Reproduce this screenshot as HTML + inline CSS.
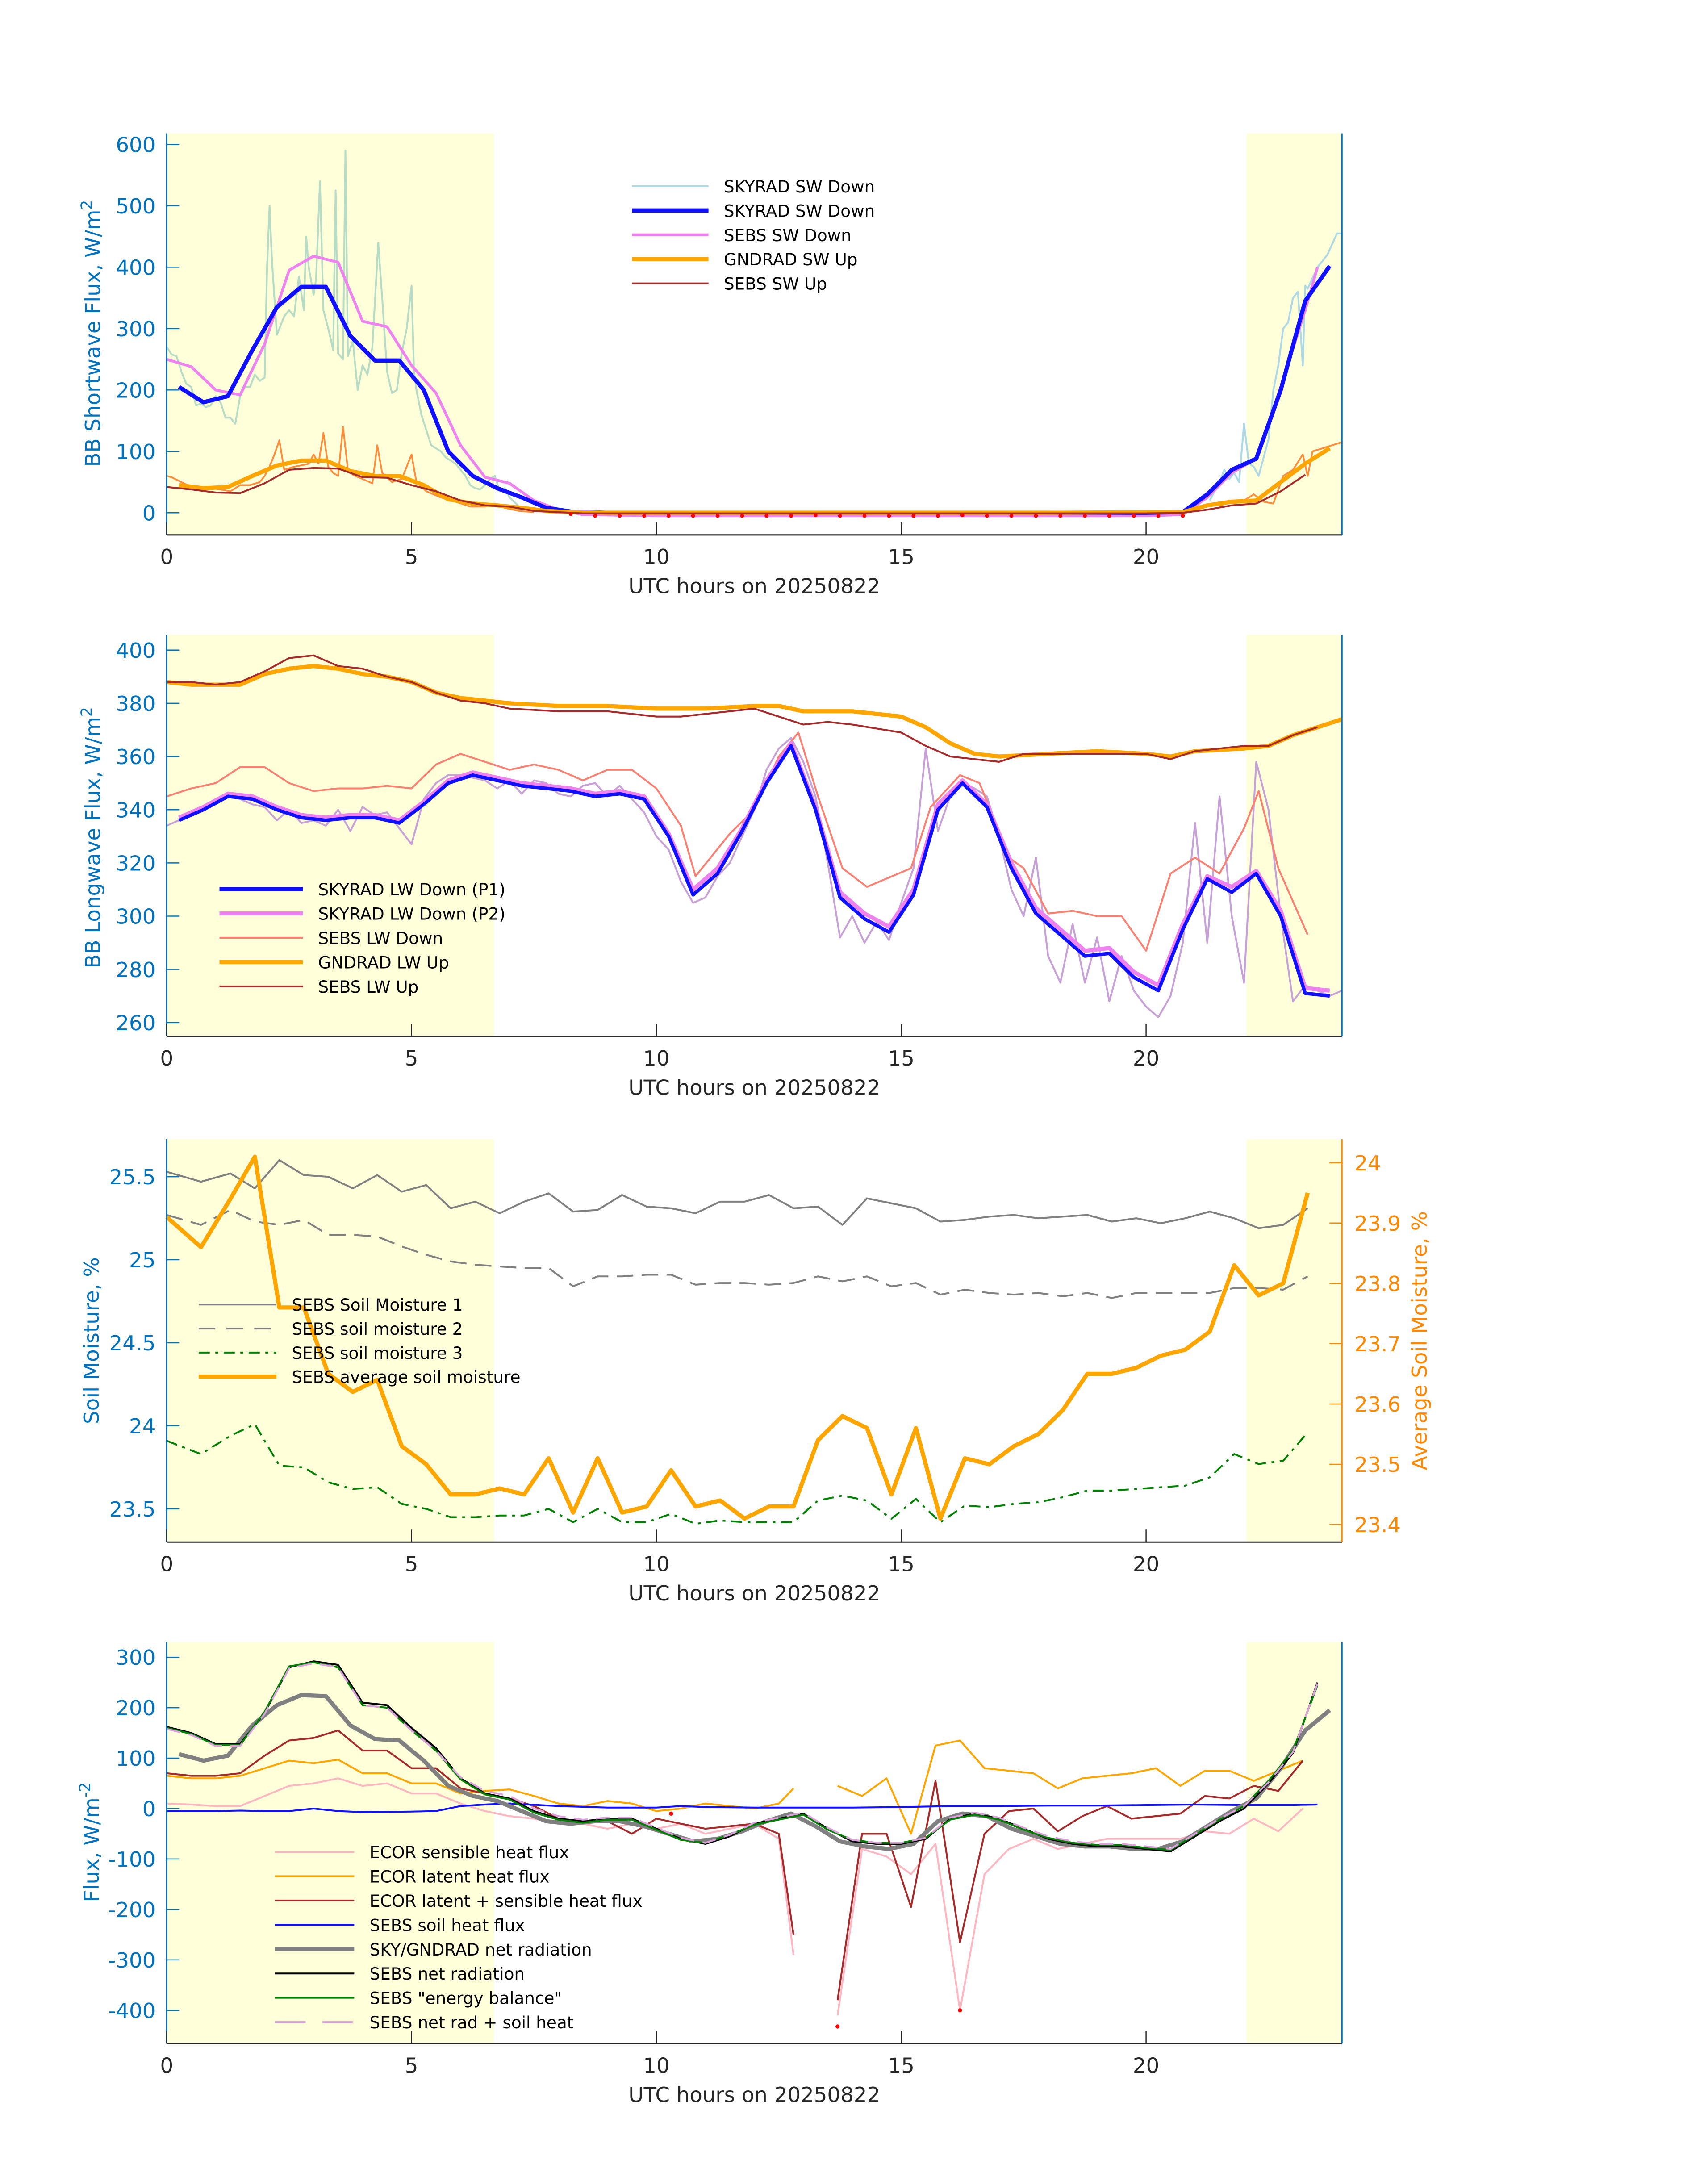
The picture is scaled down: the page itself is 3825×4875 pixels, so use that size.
<!DOCTYPE html>
<html><head><meta charset="utf-8"><style>
html,body{margin:0;padding:0;background:#fff;}
svg{display:block;font-family:"DejaVu Sans","Liberation Sans",sans-serif;}
</style></head><body>
<svg id="chart" width="3825" height="4875" viewBox="0 0 1229.5 1567" xmlns="http://www.w3.org/2000/svg">
<rect x="0" y="0" width="1229.5" height="1567" fill="#fff"/>
</svg>
<script>
// ---------- shared
const xTicks = [0,5,10,15,20];
// Panel 1 data
const p1RawSkyT = [0,0.1,0.2,0.3,0.4,0.5,0.6,0.7,0.8,0.9,1.0,1.1,1.2,1.3,1.4,1.5,1.6,1.7,1.8,1.9,2.0,2.05,2.1,2.15,2.25,2.4,2.5,2.6,2.7,2.8,2.85,2.9,3.0,3.05,3.13,3.2,3.3,3.4,3.45,3.5,3.6,3.65,3.7,3.8,3.9,4.0,4.1,4.2,4.32,4.4,4.5,4.6,4.7,4.8,4.9,5.0,5.05,5.1,5.2,5.3,5.4,5.5,5.6,5.7,5.8,5.9,6.0,6.1,6.2,6.3,6.4,6.5,6.6,6.7,6.8,6.9,7.0,7.2,7.5];
const p1RawSkyV = [270,258,255,230,210,205,175,178,172,175,190,180,155,155,145,190,205,205,225,215,220,400,500,410,290,320,330,320,385,330,450,400,355,380,540,330,300,265,525,260,250,590,255,280,200,240,225,270,440,350,230,195,200,260,300,370,230,200,160,135,110,105,100,90,85,80,70,60,45,40,38,45,55,60,35,40,25,10,3];
const p1RawSkyEveT = [21.3,21.5,21.6,21.7,21.8,21.9,22.0,22.1,22.2,22.3,22.4,22.5,22.6,22.7,22.8,22.9,23.0,23.1,23.2,23.25,23.3,23.5,23.7,23.9,24.0];
const p1RawSkyEveV = [20,50,70,55,65,50,145,80,75,60,90,120,200,240,300,310,350,360,240,370,365,400,420,455,455];
const p1RawGndT = [0,0.1,0.3,0.5,0.7,0.9,1.1,1.3,1.5,1.7,1.9,2.0,2.1,2.2,2.3,2.4,2.6,2.8,2.9,3.0,3.1,3.2,3.3,3.4,3.5,3.6,3.7,3.8,4.0,4.2,4.3,4.4,4.6,4.8,5.0,5.1,5.3,5.6,5.9,6.2,6.5,6.7,6.9,7.2,7.5];
const p1RawGndV = [60,58,50,42,42,40,38,35,45,45,50,60,75,95,118,70,75,78,80,95,80,130,75,65,60,140,70,62,55,48,110,65,50,55,95,50,35,25,18,10,10,15,8,3,1];
const p1RawGndEveT = [21.5,21.7,21.8,22.0,22.2,22.4,22.6,22.8,23.0,23.2,23.3,23.4,23.6,23.8,24.0];
const p1RawGndEveV = [10,20,15,20,30,18,15,60,70,95,60,100,105,110,115];
const p1SkyT = [0.25,0.75,1.25,1.75,2.25,2.75,3.25,3.75,4.25,4.75,5.25,5.75,6.25,6.75,7.25,7.75,8.25,9,10,11,12,13,14,15,16,17,18,19,20,20.75,21.25,21.75,22.25,22.75,23.25,23.75];
const p1SkyV = [205,180,190,265,335,368,368,288,248,248,200,100,60,40,25,8,2,0,0,0,0,0,0,0,0,0,0,0,0,1,30,70,88,200,345,402];
const p1SebsDnT = [0,0.5,1.0,1.5,2.0,2.5,3.0,3.5,4.0,4.5,5.0,5.5,6.0,6.5,7.0,7.5,8.0,8.5,10,12,14,16,18,20,20.75,21.25,21.75,22.25,22.75,23.25,23.5];
const p1SebsDnV = [250,238,200,192,275,395,418,408,312,303,240,195,110,58,48,20,5,-3,-5,-5,-5,-5,-5,-5,-3,25,65,88,205,330,400];
const p1GndT = [0.25,0.75,1.25,1.75,2.25,2.75,3.25,3.75,4.25,4.75,5.25,5.75,6.25,6.75,7.25,7.75,8.25,9,12,15,18,20.75,21.25,21.75,22.25,22.75,23.25,23.75];
const p1GndV = [45,40,42,60,77,85,85,68,60,60,45,22,15,12,8,3,1,0,0,0,0,1,12,18,20,50,80,105];
const p1SebsUpT = [0,0.5,1,1.5,2,2.5,3,3.5,4,4.5,5,5.5,6,6.5,7,7.5,8,8.5,12,16,20,20.75,21.25,21.75,22.25,22.75,23.25];
const p1SebsUpV = [42,38,33,32,48,70,73,72,58,57,45,35,20,12,10,3,1,-1,-1,-1,-1,0,5,12,15,35,62];
const p1DotT = [8.25,8.75,9.25,9.75,10.25,10.75,11.25,11.75,12.25,12.75,13.25,13.75,14.25,14.75,15.25,15.75,16.25,16.75,17.25,17.75,18.25,18.75,19.25,19.75,20.25,20.75];
const p1DotV = [-2,-5,-5,-5,-5,-5,-5,-5,-5,-5,-4,-5,-5,-5,-5,-5,-4,-5,-5,-5,-5,-5,-5,-5,-5,-5];
const p1YTicks = [0,100,200,300,400,500,600];

// Panel 2 data
const p2RawT = [0,0.25,0.5,0.75,1,1.25,1.5,1.75,2,2.25,2.5,2.75,3,3.25,3.5,3.75,4,4.25,4.5,4.75,5,5.25,5.5,5.75,6,6.25,6.5,6.75,7,7.25,7.5,7.75,8,8.25,8.5,8.75,9,9.25,9.5,9.75,10,10.25,10.5,10.75,11,11.25,11.5,11.75,12,12.25,12.5,12.75,13,13.25,13.5,13.75,14,14.25,14.5,14.75,15,15.25,15.5,15.75,16,16.25,16.5,16.75,17,17.25,17.5,17.75,18,18.25,18.5,18.75,19,19.25,19.5,19.75,20,20.25,20.5,20.75,21,21.25,21.5,21.75,22,22.25,22.5,22.75,23,23.25,23.5,23.75,24];
const p2RawV = [334,336,338,340,342,345,344,342,341,336,340,335,336,334,340,332,341,338,339,333,327,344,350,353,353,352,351,348,351,346,351,350,346,345,349,350,345,349,344,339,330,325,313,305,307,315,320,330,340,355,363,367,358,345,320,292,300,290,298,291,305,318,363,332,345,350,348,345,330,310,300,322,285,275,297,275,292,268,285,272,266,262,270,290,335,290,345,300,275,358,340,300,268,274,272,270,272];
const p2P1T = [0.25,0.75,1.25,1.75,2.25,2.75,3.25,3.75,4.25,4.75,5.25,5.75,6.25,6.75,7.25,7.75,8.25,8.75,9.25,9.75,10.25,10.75,11.25,11.75,12.25,12.75,13.25,13.75,14.25,14.75,15.25,15.75,16.25,16.75,17.25,17.75,18.25,18.75,19.25,19.75,20.25,20.75,21.25,21.75,22.25,22.75,23.25,23.75];
const p2P1V = [336,340,345,344,340,337,336,337,337,335,342,350,353,351,349,348,347,345,346,344,330,308,316,332,350,364,340,307,299,294,308,340,350,341,318,301,293,285,286,277,272,295,314,309,316,300,271,270];
const p2P2V = [337,341,346,345,341,338,337,338,338,336,343,351,354,352,350,349,348,346,347,345,331,310,318,333,351,365,341,309,301,296,310,342,351,342,320,303,295,287,288,279,274,297,315,311,317,302,273,272];
const p2SebsDnT = [0,0.5,1,1.5,2,2.5,3,3.5,4,4.5,5,5.5,6,6.5,7,7.5,8,8.5,9,9.5,10,10.5,10.8,11.5,12,12.5,12.9,13.3,13.8,14.3,15.2,15.6,16.2,16.6,17.2,17.5,18,18.5,19,19.5,20,20.5,21,21.5,22,22.3,22.7,23.3];
const p2SebsDnV = [345,348,350,356,356,350,347,348,348,349,348,357,361,358,355,357,355,351,355,355,348,334,315,331,340,360,369,345,318,311,318,341,353,350,322,318,301,302,300,300,287,316,322,316,333,347,318,293];
const p2GndT = [0,0.5,1,1.5,2,2.5,3,3.5,4,4.5,5,5.5,6,6.5,7,8,9,10,11,12,12.5,13,14,15,15.5,16,16.5,17,18,19,20,20.5,21,22,22.5,23,23.5,24];
const p2GndV = [388,387,387,387,391,393,394,393,391,390,388,384,382,381,380,379,379,378,378,379,379,377,377,375,371,365,361,360,361,362,361,360,362,363,364,368,371,374];
const p2SebsUpT = [0,0.5,1,1.5,2,2.5,3,3.5,4,4.5,5,5.5,6,6.5,7,8,9,10,10.5,11,12,12.5,13,13.5,14,15,15.5,16,16.5,17,17.5,18,19,20,20.5,21,22,22.5,23,23.5];
const p2SebsUpV = [388,388,387,388,392,397,398,394,393,390,388,384,381,380,378,377,377,375,375,376,378,375,372,373,372,369,364,360,359,358,361,361,361,361,359,362,364,364,368,371];
const p2YTicks = [260,280,300,320,340,360,380,400];

// Panel 3 data
const p3T = [0,0.7,1.3,1.8,2.3,2.8,3.3,3.8,4.3,4.8,5.3,5.8,6.3,6.8,7.3,7.8,8.3,8.8,9.3,9.8,10.3,10.8,11.3,11.8,12.3,12.8,13.3,13.8,14.3,14.8,15.3,15.8,16.3,16.8,17.3,17.8,18.3,18.8,19.3,19.8,20.3,20.8,21.3,21.8,22.3,22.8,23.3];
const p3Soil1 = [25.53,25.47,25.52,25.43,25.6,25.51,25.5,25.43,25.51,25.41,25.45,25.31,25.35,25.28,25.35,25.4,25.29,25.3,25.39,25.32,25.31,25.28,25.35,25.35,25.39,25.31,25.32,25.21,25.37,25.34,25.31,25.23,25.24,25.26,25.27,25.25,25.26,25.27,25.23,25.25,25.22,25.25,25.29,25.25,25.19,25.21,25.31];
const p3Soil2 = [25.27,25.21,25.3,25.23,25.21,25.24,25.15,25.15,25.14,25.08,25.03,24.99,24.97,24.96,24.95,24.95,24.84,24.9,24.9,24.91,24.91,24.85,24.86,24.86,24.85,24.86,24.9,24.87,24.9,24.84,24.86,24.79,24.82,24.8,24.79,24.8,24.78,24.8,24.77,24.8,24.8,24.8,24.8,24.83,24.83,24.82,24.9];
const p3Soil3 = [23.91,23.83,23.94,24.01,23.76,23.75,23.66,23.62,23.63,23.53,23.5,23.45,23.45,23.46,23.46,23.5,23.42,23.5,23.42,23.42,23.47,23.41,23.43,23.42,23.42,23.42,23.55,23.58,23.55,23.44,23.56,23.42,23.52,23.51,23.53,23.54,23.57,23.61,23.61,23.62,23.63,23.64,23.69,23.83,23.77,23.79,23.96];
const p3Avg = [23.91,23.86,23.94,24.01,23.76,23.76,23.65,23.62,23.64,23.53,23.5,23.45,23.45,23.46,23.45,23.51,23.42,23.51,23.42,23.43,23.49,23.43,23.44,23.41,23.43,23.43,23.54,23.58,23.56,23.45,23.56,23.41,23.51,23.5,23.53,23.55,23.59,23.65,23.65,23.66,23.68,23.69,23.72,23.83,23.78,23.8,23.95];
const p3YTicks = [23.5,24,24.5,25,25.5];
const p3YTickLabels = ["23.5","24","24.5","25","25.5"];
const p3RTicks = [23.4,23.5,23.6,23.7,23.8,23.9,24];
const p3RTickLabels = ["23.4","23.5","23.6","23.7","23.8","23.9","24"];

// Panel 4 data
const p4T = [0,0.5,1,1.5,2,2.5,3,3.5,4,4.5,5,5.5,6,6.5,7,7.5,8,8.5,9,9.5,10,10.5,11,11.5,12,12.5,13,13.5,14,14.5,15,15.5,16,16.5,17,17.5,18,18.5,19,19.5,20,20.5,21,21.5,22,22.5,23,23.5];
const p4NetRad = [162,150,128,128,190,280,292,285,210,205,160,120,60,30,20,-5,-20,-25,-20,-20,-40,-60,-70,-55,-30,-20,-10,-40,-65,-70,-70,-60,-20,-10,-20,-40,-60,-70,-75,-75,-80,-85,-55,-25,0,50,110,250];
const p4EnergyBal = [160,148,126,126,192,282,290,280,205,200,155,115,58,28,18,-8,-22,-28,-22,-22,-42,-62,-68,-52,-32,-22,-12,-42,-62,-68,-68,-58,-22,-12,-22,-42,-58,-68,-72,-72,-78,-82,-52,-22,5,55,115,245];
const p4NetSoil = [158,146,124,124,188,278,288,280,205,200,155,115,62,35,25,0,-15,-22,-18,-18,-38,-58,-68,-52,-28,-18,-8,-38,-62,-68,-68,-58,-18,-8,-18,-38,-55,-65,-70,-70,-75,-80,-50,-20,5,52,112,248];
const p4SkyT = [0.25,0.75,1.25,1.75,2.25,2.75,3.25,3.75,4.25,4.75,5.25,5.75,6.25,6.75,7.25,7.75,8.25,8.75,9.25,9.75,10.25,10.75,11.25,11.75,12.25,12.75,13.25,13.75,14.25,14.75,15.25,15.75,16.25,16.75,17.25,17.75,18.25,18.75,19.25,19.75,20.25,20.75,21.25,21.75,22.25,22.75,23.25,23.75];
const p4SkyNet = [108,95,105,165,205,225,223,165,138,135,95,45,25,15,-5,-25,-30,-25,-25,-35,-50,-65,-60,-45,-25,-10,-35,-65,-75,-80,-70,-25,-10,-15,-40,-55,-70,-75,-75,-80,-80,-65,-35,-5,20,80,155,195];
const p4SoilHeatT = [0,1,1.5,2,2.5,3,3.5,4,5,5.5,6,6.5,7,8,9,10,10.5,11,12,13,14,15,16,17,18,19,20,21,22,23,23.5];
const p4SoilHeat = [-5,-5,-4,-5,-5,0,-5,-7,-6,-5,5,8,10,5,2,2,5,3,2,2,2,3,5,5,6,6,7,8,7,7,8];
const p4EcorT1 = [0,0.5,1,1.5,2,2.5,3,3.5,4,4.5,5,5.5,6,6.5,7,7.5,8,8.5,9,9.5,10,10.5,11,11.5,12,12.5,12.8];
const p4Latent1 = [65,60,60,65,80,95,90,97,70,70,50,50,30,35,38,25,10,5,15,10,-5,0,10,5,0,10,40];
const p4Sens1 = [10,8,5,5,25,45,50,60,45,50,30,30,10,-5,-15,-20,-30,-30,-40,-30,-40,-30,-50,-40,-30,-60,-290];
const p4Sum1 = [70,65,65,70,105,135,140,155,115,115,80,80,40,30,20,5,-20,-25,-25,-50,-20,-30,-40,-35,-30,-50,-250];
const p4EcorT2 = [13.7,14.2,14.7,15.2,15.7,16.2,16.7,17.2,17.7,18.2,18.7,19.2,19.7,20.2,20.7,21.2,21.7,22.2,22.7,23.2];
const p4Latent2 = [45,25,60,-50,125,135,80,75,70,40,60,65,70,80,45,75,75,55,75,95];
const p4Sens2 = [-410,-80,-95,-130,-70,-400,-130,-80,-60,-80,-70,-60,-60,-60,-60,-45,-50,-20,-45,0];
const p4Sum2 = [-380,-50,-50,-195,55,-265,-50,-5,0,-45,-15,5,-20,-15,-10,25,20,45,35,95];
const p4DotT = [13.7,16.2,10.3];
const p4DotV = [-432,-400,-10];
const p4YTicks = [-400,-300,-200,-100,0,100,200,300];

// ---------- drawing
const NS = "http://www.w3.org/2000/svg";
const svg = document.getElementById("chart");
const X0 = 120, X1 = 966;
function xs(t){ return X0 + t*(X1-X0)/24; }
function mk(tag, attrs, parent){
  const el = document.createElementNS(NS, tag);
  for (const k in attrs) el.setAttribute(k, attrs[k]);
  (parent||svg).appendChild(el);
  return el;
}
function txt(x,y,s,size,fill,anchor,parent){
  const el = mk("text",{x:x,y:y,"font-size":size,fill:fill,"text-anchor":anchor||"middle"},parent);
  el.textContent = s;
  return el;
}
function panel(name, top, bottom, ymin, ymax){
  const g = mk("g",{});
  
  
  const ys = v => bottom - (v-ymin)*(bottom-top)/(ymax-ymin);
  const s1 = mk("rect",{x:X0,y:top,width:xs(6.68)-X0,height:bottom-top,fill:"#ffffd9"},g);
  
  
  const s2 = mk("rect",{x:xs(22.05),y:top,width:X1-xs(22.05),height:bottom-top,fill:"#ffffd9"},g);
  
  
  return {g:g, ys:ys, top:top, bottom:bottom};
}
function axes(p, yticks, ylabels, ycolor, rightColor){
  const g = p.g;
  const ax = mk("g",{},g);
  
  
  mk("line",{x1:X0,y1:p.top,x2:X0,y2:p.bottom,stroke:ycolor,"stroke-width":1},ax);
  mk("line",{x1:X0,y1:p.bottom,x2:X1,y2:p.bottom,stroke:"#262626","stroke-width":1},ax);
  mk("line",{x1:X1,y1:p.top,x2:X1,y2:p.bottom,stroke:rightColor||ycolor,"stroke-width":1},ax);
  xTicks.forEach(t=>{
    mk("line",{x1:xs(t),y1:p.bottom,x2:xs(t),y2:p.bottom-9,stroke:"#262626","stroke-width":0.8},ax);
    const l = txt(xs(t), p.bottom+21, String(t), 15, "#262626","middle",ax);
    
    
  });
  yticks.forEach((v,i)=>{
    const y = p.ys(v);
    mk("line",{x1:X0,y1:y,x2:X0+9,y2:y,stroke:ycolor,"stroke-width":0.8},ax);
    const l = txt(X0-8, y+5.5, ylabels[i], 15, ycolor,"end",ax);
    
    
  });
  const xl = txt(543, p.bottom+42, "UTC hours on 20250822", 15, "#262626","middle",ax);
  
  
}
function series(p, name, T, V, style, ysf){
  const ys = ysf || p.ys;
  const pts = T.map((t,i)=> xs(t).toFixed(2)+","+ys(V[i]).toFixed(2)).join(" ");
  const a = {points:pts, fill:"none", stroke:style.c, "stroke-width":style.w, "stroke-linejoin":"round"};
  if (style.d) a["stroke-dasharray"] = style.d;
  const el = mk("polyline", a, p.g);
  
  
  return el;
}
function dots(p, name, T, V, r){
  T.forEach((t,i)=>{
    const c = mk("circle",{cx:xs(t),cy:p.ys(V[i]),r:r||1.6,fill:"#ff0000"},p.g);
    
    
  });
}
function ylabel(x, y, parts, color, name){
  const t = mk("text",{transform:`translate(${x},${y}) rotate(-90)`,"font-size":15,fill:color,"text-anchor":"middle"});
  
  
  parts.forEach(pt=>{
    const s = mk("tspan",{},t);
    if (pt.sup) { s.setAttribute("dy","-6"); s.setAttribute("font-size","11"); }
    s.textContent = pt.s;
  });
}
function legend(p, x, y0, dy, items, name){
  const g = mk("g",{},p.g);
  
  
  items.forEach((it,i)=>{
    const y = y0 + i*dy;
    const a = {x1:x, y1:y, x2:x+it.len, y2:y, stroke:it.c, "stroke-width":it.w};
    if (it.d) a["stroke-dasharray"] = it.d;
    mk("line", a, g);
    const l = txt(x+it.len+11, y+4.5, it.label, 12, "#000", "start", g);
    
    
  });
}
const BLUE = "#0072bd";

// ---- Panel 1
const P1 = panel("shortwave-panel", 96, 385, -36, 618);
series(P1,"skyrad-sw-down-raw",p1RawSkyT,p1RawSkyV,{c:"#b6dcc6",w:1.3});
series(P1,"skyrad-sw-down-raw-evening",p1RawSkyEveT,p1RawSkyEveV,{c:"#add8e6",w:1.3});
series(P1,"gndrad-sw-up-raw",p1RawGndT,p1RawGndV,{c:"#ff8c3a",w:1.2});
series(P1,"gndrad-sw-up-raw-evening",p1RawGndEveT,p1RawGndEveV,{c:"#ff8c3a",w:1.2});
series(P1,"sebs-sw-down",p1SebsDnT,p1SebsDnV,{c:"#ee82ee",w:2});
series(P1,"skyrad-sw-down",p1SkyT,p1SkyV,{c:"#1010ff",w:3});
series(P1,"gndrad-sw-up",p1GndT,p1GndV,{c:"#ffa500",w:3});
series(P1,"sebs-sw-up",p1SebsUpT,p1SebsUpV,{c:"#a52a2a",w:1.3});
dots(P1,"sebs-missing-marker",p1DotT,p1DotV,1.4);
axes(P1,p1YTicks,p1YTicks.map(String),BLUE);
ylabel(72,240,[{s:"BB Shortwave Flux, W/m"},{s:"2",sup:1}],BLUE,"y-axis-title-shortwave");
legend(P1,455,134,17.5,[
 {label:"SKYRAD SW Down",c:"#add8e6",w:1.2,len:55},
 {label:"SKYRAD SW Down",c:"#1010ff",w:3,len:55},
 {label:"SEBS SW Down",c:"#ee82ee",w:2,len:55},
 {label:"GNDRAD SW Up",c:"#ffa500",w:3,len:55},
 {label:"SEBS SW Up",c:"#a52a2a",w:1.3,len:55}],"legend-shortwave");

// ---- Panel 2
const P2 = panel("longwave-panel", 457, 746, 254.8, 405.7);
series(P2,"skyrad-lw-down-raw-p2",p2RawT,p2RawV,{c:"#c8a0d8",w:1.3});
series(P2,"sebs-lw-down",p2SebsDnT,p2SebsDnV,{c:"#fa8072",w:1.3});
series(P2,"skyrad-lw-down-p2",p2P1T,p2P2V,{c:"#ee82ee",w:3});
series(P2,"skyrad-lw-down-p1",p2P1T,p2P1V,{c:"#1010ff",w:2.5});
series(P2,"gndrad-lw-up",p2GndT,p2GndV,{c:"#ffa500",w:3});
series(P2,"sebs-lw-up",p2SebsUpT,p2SebsUpV,{c:"#a52a2a",w:1.3});
axes(P2,p2YTicks,p2YTicks.map(String),BLUE);
ylabel(72,603,[{s:"BB Longwave Flux, W/m"},{s:"2",sup:1}],BLUE,"y-axis-title-longwave");
legend(P2,158,640,17.5,[
 {label:"SKYRAD LW Down (P1)",c:"#1010ff",w:3,len:60},
 {label:"SKYRAD LW Down (P2)",c:"#ee82ee",w:3,len:60},
 {label:"SEBS LW Down",c:"#fa8072",w:1.3,len:60},
 {label:"GNDRAD LW Up",c:"#ffa500",w:3,len:60},
 {label:"SEBS LW Up",c:"#a52a2a",w:1.3,len:60}],"legend-longwave");

// ---- Panel 3
const P3 = panel("soil-moisture-panel", 820, 1110, 23.30, 25.726);
const ysR = v => 1110 - (v-23.371)*(1110-820)/(24.039-23.371);
series(P3,"sebs-soil-moisture-1",p3T,p3Soil1,{c:"#808080",w:1.3});
series(P3,"sebs-soil-moisture-2",p3T,p3Soil2,{c:"#808080",w:1.3,d:"12,6"});
series(P3,"sebs-soil-moisture-3",p3T,p3Soil3,{c:"#008000",w:1.3,d:"8,4,2,4"});
series(P3,"sebs-average-soil-moisture",p3T,p3Avg,{c:"#ffa500",w:3},ysR);
axes(P3,p3YTicks,p3YTickLabels,BLUE,"#ff8800");
p3RTicks.forEach((v,i)=>{
  mk("line",{x1:X1-9,y1:ysR(v),x2:X1,y2:ysR(v),stroke:"#ff8800","stroke-width":0.8},P3.g);
  const l = txt(X1+9, ysR(v)+5.5, p3RTickLabels[i], 15, "#ff8800","start",P3.g);
  
  
});
ylabel(71,965,[{s:"Soil Moisture, %"}],BLUE,"y-axis-title-soil-moisture");
ylabel(1027,965,[{s:"Average Soil Moisture, %"}],"#ff8800","right-y-axis-title-average-soil-moisture");
legend(P3,143,939,17.3,[
 {label:"SEBS Soil Moisture 1",c:"#808080",w:1.3,len:56},
 {label:"SEBS soil moisture 2",c:"#808080",w:1.3,len:56,d:"12,8"},
 {label:"SEBS soil moisture 3",c:"#008000",w:1.3,len:56,d:"8,4,2,4"},
 {label:"SEBS average soil moisture",c:"#ffa500",w:3,len:56}],"legend-soil-moisture");

// ---- Panel 4
const P4 = panel("energy-flux-panel", 1182, 1471, -466, 330);
series(P4,"ecor-sensible-heat-flux",p4EcorT1,p4Sens1,{c:"#ffb6c1",w:1.3});
series(P4,"ecor-sensible-heat-flux-late",p4EcorT2,p4Sens2,{c:"#ffb6c1",w:1.3});
series(P4,"ecor-latent-heat-flux",p4EcorT1,p4Latent1,{c:"#ffa500",w:1.3});
series(P4,"ecor-latent-heat-flux-late",p4EcorT2,p4Latent2,{c:"#ffa500",w:1.3});
series(P4,"ecor-latent-plus-sensible",p4EcorT1,p4Sum1,{c:"#a52a2a",w:1.3});
series(P4,"ecor-latent-plus-sensible-late",p4EcorT2,p4Sum2,{c:"#a52a2a",w:1.3});
series(P4,"sebs-soil-heat-flux",p4SoilHeatT,p4SoilHeat,{c:"#1010ff",w:1.3});
series(P4,"skygndrad-net-radiation",p4SkyT,p4SkyNet,{c:"#808080",w:3});
series(P4,"sebs-net-radiation",p4T,p4NetRad,{c:"#000",w:1.3});
series(P4,"sebs-energy-balance",p4T,p4EnergyBal,{c:"#008000",w:1.3});
series(P4,"sebs-net-rad-plus-soil-heat",p4T,p4NetSoil,{c:"#dda0dd",w:1.3,d:"10,6"});
dots(P4,"ecor-missing-marker",p4DotT,p4DotV,1.5);
axes(P4,p4YTicks,p4YTicks.map(String),BLUE);
ylabel(71,1326,[{s:"Flux, W/m"},{s:"-2",sup:1}],BLUE,"y-axis-title-flux");
legend(P4,198,1333,17.5,[
 {label:"ECOR sensible heat flux",c:"#ffb6c1",w:1.3,len:57},
 {label:"ECOR latent heat flux",c:"#ffa500",w:1.3,len:57},
 {label:"ECOR latent + sensible heat flux",c:"#a52a2a",w:1.3,len:57},
 {label:"SEBS soil heat flux",c:"#1010ff",w:1.3,len:57},
 {label:"SKY/GNDRAD net radiation",c:"#808080",w:3,len:57},
 {label:"SEBS net radiation",c:"#000",w:1.3,len:57},
 {label:"SEBS \"energy balance\"",c:"#008000",w:1.3,len:57},
 {label:"SEBS net rad + soil heat",c:"#dda0dd",w:1.3,len:57,d:"22,12"}],"legend-energy-flux");
</script>
</body></html>
